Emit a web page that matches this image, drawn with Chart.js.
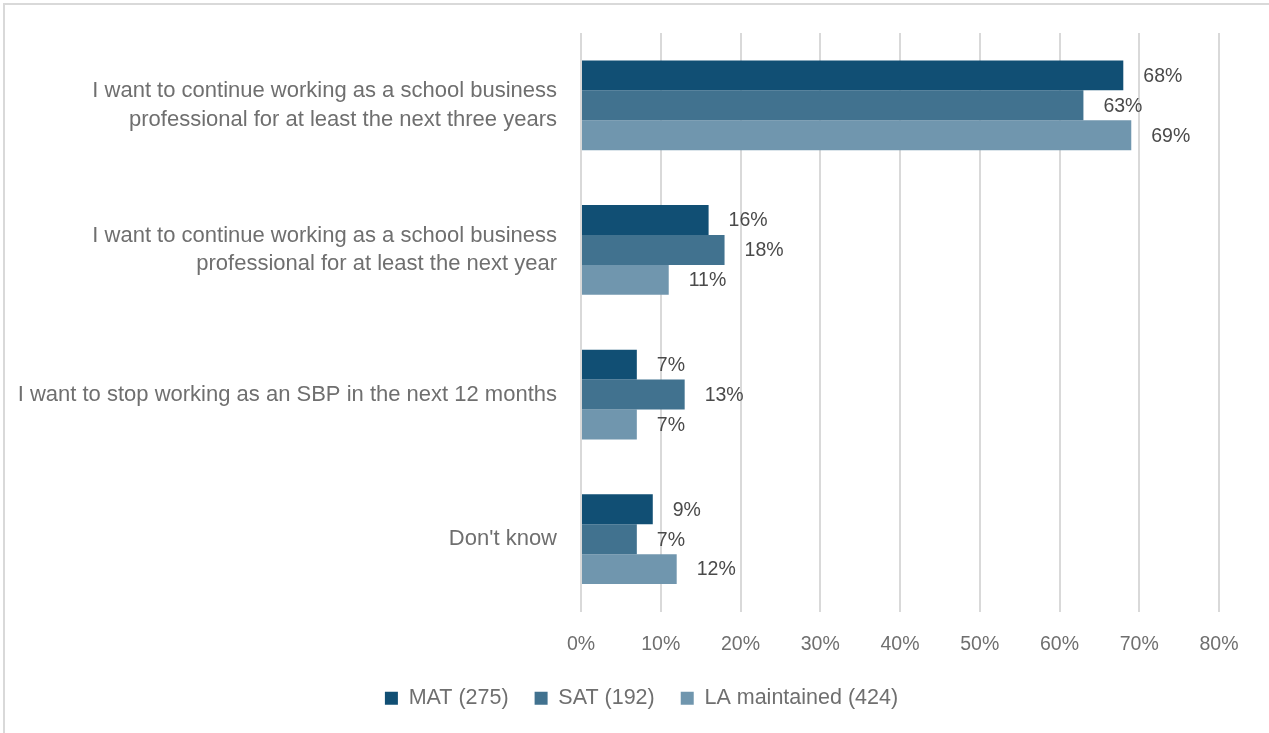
<!DOCTYPE html>
<html>
<head>
<meta charset="utf-8">
<script src="https://cdn.jsdelivr.net/npm/chart.js@4.4.0/dist/chart.umd.min.js"></script>
<style>
  html, body { margin: 0; padding: 0; background: #fff; }
  #wrap { position: relative; width: 1269px; height: 733px; overflow: hidden; }
  #frame { position: absolute; left: 3px; top: 3px; width: 1300px; height: 800px; border-left: 2px solid #d9d9d9; border-top: 2px solid #d9d9d9; }
  #chart { position: absolute; left: 0; top: 0; }
</style>
</head>
<body>
<div id="wrap">
  <div id="frame"></div>
  <canvas id="chart" width="1269" height="733"></canvas>
</div>
<script>
const categories = [
    ['I want to continue working as a school business', 'professional for at least the next three years'],
    ['I want to continue working as a school business', 'professional for at least the next year'],
    'I want to stop working as an SBP in the next 12 months',
    "Don't know"
];
const seriesNames = ['MAT (275)', 'SAT (192)', 'LA maintained (424)'];
const matValues = [68, 16, 7, 9];
const satValues = [63, 18, 13, 7];
const laValues = [69, 11, 7, 12];
const xTicks = [0, 10, 20, 30, 40, 50, 60, 70, 80];

const colors = ['#114f74', '#41728f', '#7096ae'];
const textGrey = '#6f6f6f';
const fontFamily = "'Liberation Sans', Arial, sans-serif";

// value labels drawn just past the end of each bar
const valueLabels = {
    id: 'valueLabels',
    afterDatasetsDraw(chart) {
        const ctx = chart.ctx;
        ctx.save();
        ctx.font = '19.5px ' + fontFamily;
        ctx.fillStyle = '#4a4a4a';
        ctx.textAlign = 'left';
        ctx.textBaseline = 'middle';
        chart.data.datasets.forEach((ds, i) => {
            chart.getDatasetMeta(i).data.forEach((bar, j) => {
                ctx.fillText(ds.data[j] + '%', bar.x + 20, bar.y + 1);
            });
        });
        ctx.restore();
    }
};

// centre the legend on the whole canvas rather than the padded layout box
const legendCentre = {
    id: 'legendCentre',
    afterLayout(chart) {
        const lg = chart.legend;
        if (!lg) return;
        const shift = (chart.width - (lg.left + lg.right)) / 2 + 7;
        lg.left += shift;
        lg.right += shift;
    }
};

new Chart(document.getElementById('chart'), {
    type: 'bar',
    data: {
        labels: categories,
        datasets: [
            { label: seriesNames[0], data: matValues, backgroundColor: colors[0] },
            { label: seriesNames[1], data: satValues, backgroundColor: colors[1] },
            { label: seriesNames[2], data: laValues, backgroundColor: colors[2] }
        ]
    },
    options: {
        indexAxis: 'y',
        responsive: false,
        animation: false,
        layout: { padding: { top: 33, left: 0, right: 50, bottom: 14 } },
        datasets: { bar: { categoryPercentage: 0.62, barPercentage: 1 } },
        scales: {
            x: {
                min: 0,
                max: 80,
                afterBuildTicks(scale) { scale.ticks = xTicks.map(v => ({ value: v })); },
                grid: { color: '#d9d9d9', lineWidth: 2, drawTicks: false },
                border: { display: false },
                ticks: {
                    color: textGrey,
                    padding: 21,
                    font: { size: 19.5, family: fontFamily },
                    callback: v => v + '%'
                },
                afterFit(scale) { scale.height = 50; }
            },
            y: {
                grid: { display: false },
                border: { display: false },
                ticks: {
                    color: textGrey,
                    padding: 16,
                    font: { size: 22, family: fontFamily, lineHeight: 1.3 }
                },
                afterFit(scale) { scale.width = 581; }
            }
        },
        plugins: {
            legend: {
                position: 'bottom',
                labels: {
                    color: textGrey,
                    boxWidth: 13,
                    boxHeight: 13,
                    padding: 26,
                    font: { size: 21.5, family: fontFamily }
                }
            },
            tooltip: { enabled: false }
        }
    },
    plugins: [valueLabels, legendCentre]
});
</script>
</body>
</html>
